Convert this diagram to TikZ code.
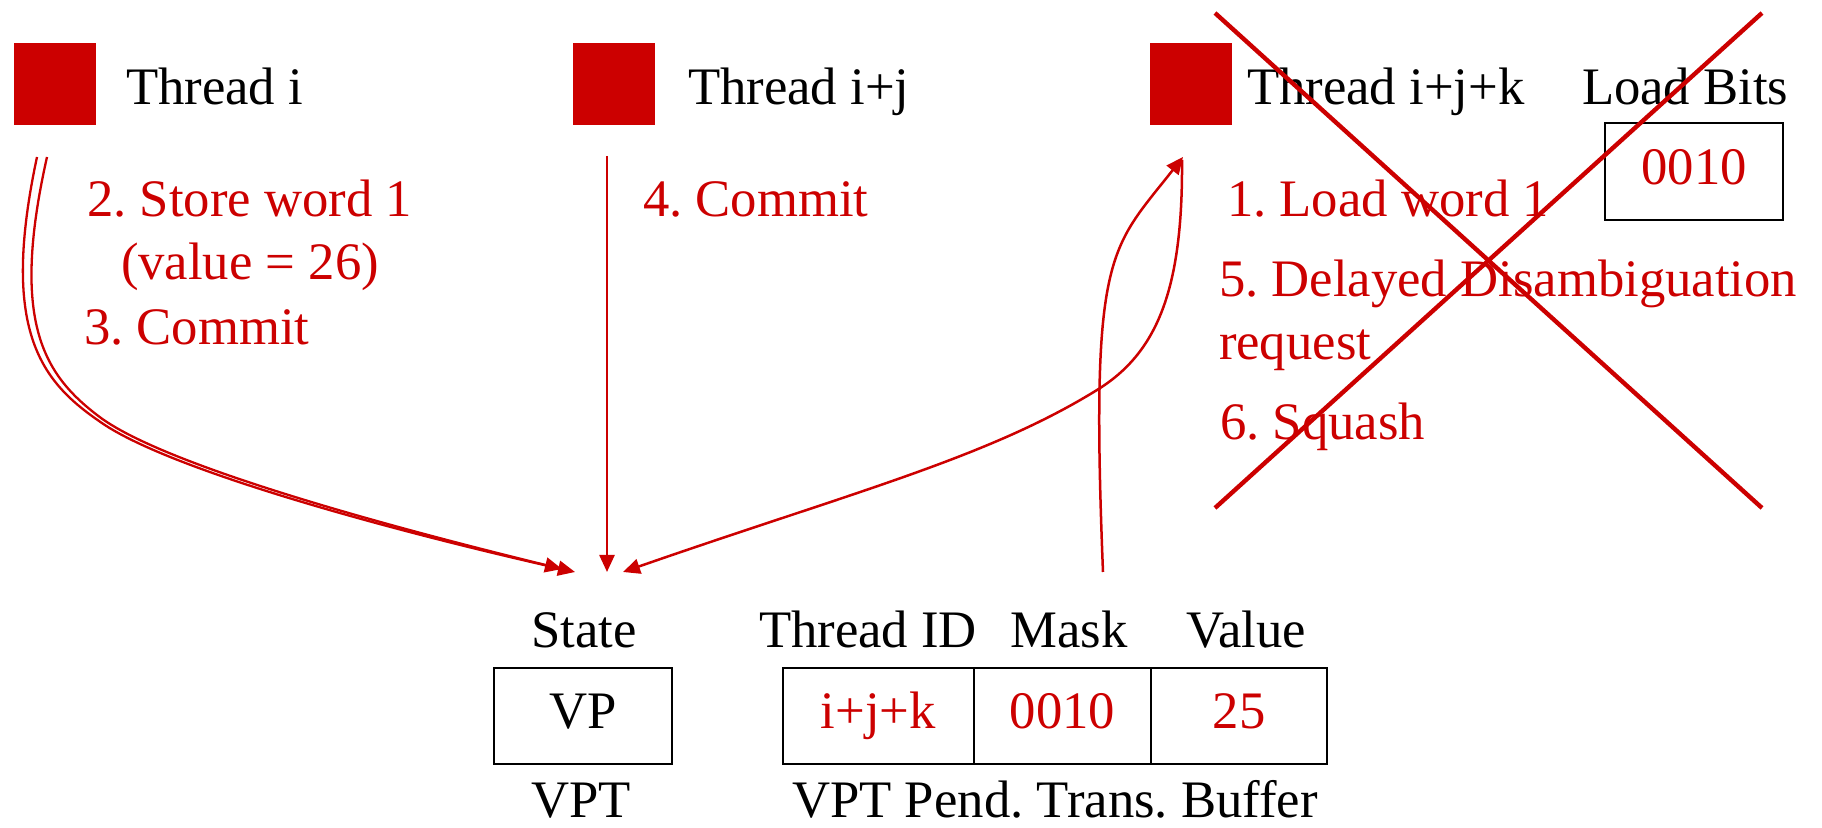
\documentclass[tikz,border=0pt]{standalone}
\usepackage{fontspec}
\setmainfont{Liberation Serif}
\usetikzlibrary{arrows.meta}
\definecolor{vred}{RGB}{204,0,0}
\frenchspacing
\begin{document}
\begin{tikzpicture}[x=0.5pt,y=-0.5pt,
  every node/.style={inner sep=0pt, outer sep=0pt, font=\fontsize{26.35}{31}\selectfont},
  thread/.style={fill=vred, draw=none, minimum width=41pt, minimum height=41pt},
  lbl/.style={anchor=base west, text=black},
  note/.style={anchor=base west, text=vred},
  head/.style={anchor=base, text=black},
  cell/.style={draw=black, line width=1.1pt, text height=12pt, text depth=0pt, minimum height=48pt},
  tip/.style={-{Triangle[length=8.5pt,width=7.5pt]}},
  flow/.style={draw=vred, line width=1.25pt, tip},
  twin/.style={draw=vred, line width=1.15pt, tip},
  cross/.style={draw=vred, line width=2.2pt}
]
\useasboundingbox (0,0) rectangle (1822,828);

% threads
\node[thread] (t1) at (55,84) {};
\node[thread] (t2) at (614,84) {};
\node[thread] (t3) at (1191,84) {};
\node[lbl] (t1l) at (126,105) {Thread i};
\node[lbl] (t2l) at (688,105) {Thread i+j};
\node[lbl] (t3l) at (1247,105) {Thread i+j+k};
\node[lbl] (lbits) at (1582,105) {Load Bits};
\node[cell, minimum width=89pt, text height=13.5pt, minimum height=48.5pt, text=vred] (lbox) at (1694,171.5) {0010};

% step notes
\node[note] (n2) at (87,217) {2. Store word 1};
\node[note] (n2b) at (121,280) {(value = 26)};
\node[note] (n3) at (84,345) {3. Commit};
\node[note] (n4) at (643,217) {4. Commit};
\node[note] (n1) at (1227,217) {1. Load word 1};
\node[note] (n5) at (1219,297) {5. Delayed Disambiguation};
\node[note] (n5b) at (1219,360) {request};
\node[note] (n6) at (1220,440) {6. Squash};

% VPT and its pending transaction buffer
\node[head] (hstate) at (584,647) {State};
\node[head] (htid) at (868,647) {Thread ID};
\node[head] (hmask) at (1069,647) {Mask};
\node[head] (hval) at (1246,647) {Value};
\node[cell, minimum width=89pt] (vp) at (583,716) {VP};
\node[cell, minimum width=95.5pt, text=vred] (ctid) at (878.5,716) {i+j+k};
\node[cell, minimum width=88.5pt, text=vred] (cmask) at (1062.5,716) {0010};
\node[cell, minimum width=88pt, text=vred] (cval) at (1239,716) {25};
\node[head] (fvpt) at (581,817) {VPT};
\node[head] (fbuf) at (1055,817) {VPT Pend. Trans. Buffer};

% connector end points
\coordinate (s1o) at (37,157);
\coordinate (s1i) at (47,157);
\coordinate (s2) at (607,156);
\coordinate (s3) at (1182,160);
\coordinate (e1o) at (575,572);
\coordinate (e1i) at (562,569);
\coordinate (e2) at (607,572);
\coordinate (e3) at (623,572);
\coordinate (sb) at (1103,572);
\coordinate (eb) at (1183,157);

% store / commit from thread i
\draw[twin] (s1o) .. controls (0,330) and (41,381) .. (99,421)
  .. controls (164,468) and (380,528) .. (e1o);
\draw[twin] (s1i) .. controls (9,326) and (46,377) .. (101,418)
  .. controls (166,465) and (374,523) .. (e1i);
% commit from thread i+j
\draw[flow] (s2) -- (e2);
% load from thread i+j+k
\draw[flow] (s3) .. controls (1183,290) and (1157,353) .. (1097,390)
  .. controls (987,458) and (853,492) .. (e3);
% disambiguation request back to thread i+j+k
\draw[flow] (sb) .. controls (1090,250) and (1110,250) .. (eb);

% squashed thread
\draw[cross] (1215,13) -- (1762,508);
\draw[cross] (1762,13) -- (1215,508);
\end{tikzpicture}
\end{document}
